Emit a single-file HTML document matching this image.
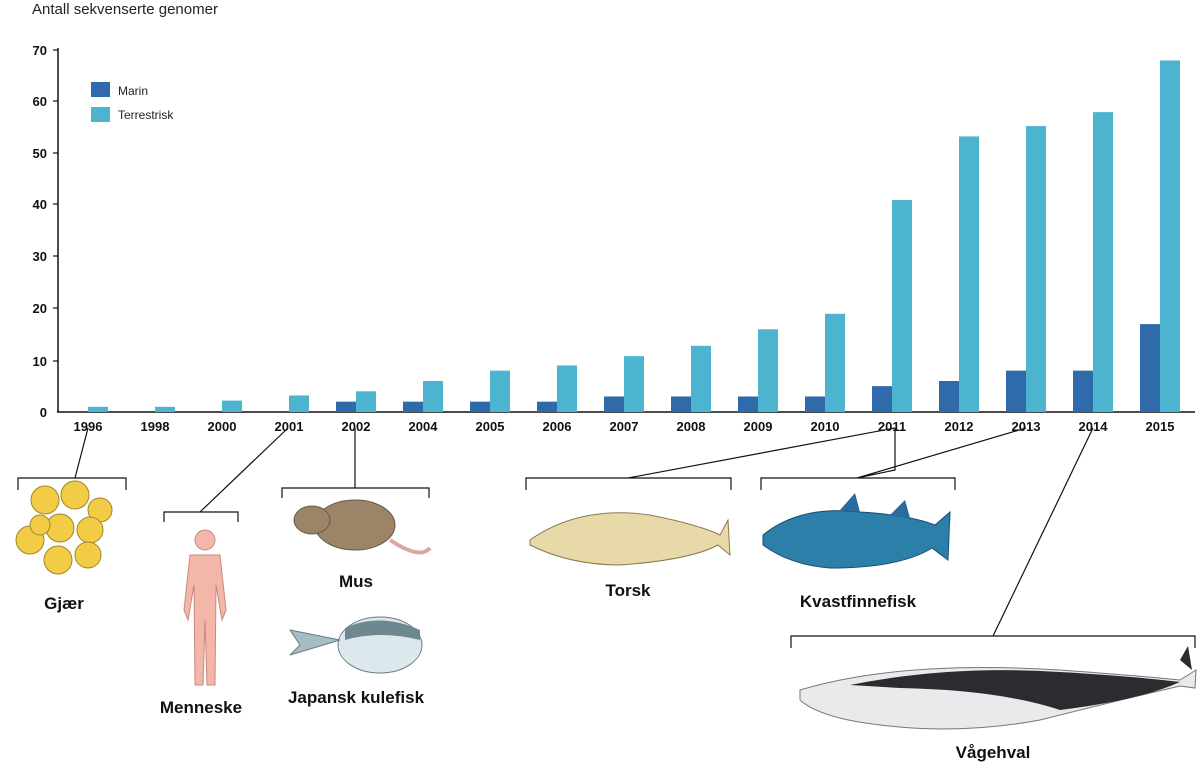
<!DOCTYPE html>
<html><head><meta charset="utf-8"><style>
body{margin:0;background:#fff}
svg{display:block;font-family:"Liberation Sans",sans-serif}
</style></head><body>
<svg width="1200" height="763" viewBox="0 0 1200 763" xmlns="http://www.w3.org/2000/svg">
<text x="32" y="14" font-size="15" fill="#222">Antall sekvenserte genomer</text>
<line x1="58" y1="48" x2="58" y2="412" stroke="#111" stroke-width="1.5"/>
<line x1="57" y1="412" x2="1195" y2="412" stroke="#111" stroke-width="1.5"/>
<g font-size="13" font-weight="bold" text-anchor="end" fill="#111">
<text x="47" y="55">70</text><text x="47" y="106">60</text><text x="47" y="158">50</text><text x="47" y="209">40</text><text x="47" y="261">30</text><text x="47" y="313">20</text><text x="47" y="366">10</text><text x="47" y="417">0</text>
</g>
<g stroke="#111" stroke-width="1.2">
<line x1="53" y1="50" x2="58" y2="50"/><line x1="53" y1="101" x2="58" y2="101"/><line x1="53" y1="153" x2="58" y2="153"/><line x1="53" y1="204" x2="58" y2="204"/><line x1="53" y1="256" x2="58" y2="256"/><line x1="53" y1="308" x2="58" y2="308"/><line x1="53" y1="361" x2="58" y2="361"/>
</g>
<rect x="91" y="82" width="19" height="15" fill="#2f6aab"/><text x="118" y="95" font-size="12" fill="#222">Marin</text>
<rect x="91" y="107" width="19" height="15" fill="#4db4cf"/><text x="118" y="119" font-size="12" fill="#222">Terrestrisk</text>
<g id="bars"></g>
<g id="labels" font-size="13" font-weight="bold" text-anchor="middle" fill="#111"></g>
<!-- brackets -->
<g stroke="#111" stroke-width="1.2" fill="none">
<path d="M88 428 L75 478 M18 490 V478 H126 V490"/>
<path d="M288 428 L200 512 M164 522 V512 H238 V522"/>
<path d="M355 428 V488 M282 498 V488 H429 V498"/>
<path d="M895 428 L628 478 M526 490 V478 H731 V490"/>
<path d="M1026 428 L857 478 M895 428 V470 L857 478 M761 490 V478 H955 V490"/>
<path d="M1093 428 L993 636 M791 648 V636 H1195 V648"/>
</g>
<!-- yeast -->
<g fill="#f2cc45" stroke="#a0862a" stroke-width="1">
<circle cx="45" cy="500" r="14"/><circle cx="75" cy="495" r="14"/><circle cx="100" cy="510" r="12"/><circle cx="30" cy="540" r="14"/><circle cx="60" cy="528" r="14"/><circle cx="90" cy="530" r="13"/><circle cx="58" cy="560" r="14"/><circle cx="88" cy="555" r="13"/><circle cx="40" cy="525" r="10"/>
</g>
<!-- human -->
<g fill="#f2b7a8" stroke="#c88a7c" stroke-width="1">
<circle cx="205" cy="540" r="10"/>
<path d="M190 555 H220 L226 610 L222 620 L216 585 L215 685 H207 L205 620 L203 685 H195 L194 585 L188 620 L184 610 Z"/>
</g>
<!-- mouse -->
<ellipse cx="355" cy="525" rx="40" ry="25" fill="#9b8468" stroke="#6b5a44"/>
<ellipse cx="312" cy="520" rx="18" ry="14" fill="#9b8468" stroke="#6b5a44"/>
<path d="M390 540 Q420 560 430 548" stroke="#d9a8a0" stroke-width="4" fill="none"/>
<!-- pufferfish -->
<ellipse cx="380" cy="645" rx="42" ry="28" fill="#dce8ec" stroke="#6a7c84"/>
<path d="M340 640 L290 630 L300 645 L290 655 Z" fill="#a7bcc5" stroke="#6a7c84"/>
<path d="M345 628 Q380 612 420 630 L420 640 Q380 630 345 640Z" fill="#6f8791"/>
<!-- cod -->
<path d="M530 540 Q580 505 650 515 Q700 525 720 535 L728 520 L730 555 L718 545 Q690 560 620 565 Q570 565 530 545 Z" fill="#e8d9a8" stroke="#8a7a50"/>
<!-- coelacanth -->
<path d="M763 535 Q800 505 860 512 Q910 515 935 525 L950 512 L948 560 L932 548 Q900 568 830 568 Q790 565 763 545 Z" fill="#2c7fa8" stroke="#1d4e73"/>
<path d="M840 510 L855 493 L860 512 Z M890 515 L905 500 L910 518Z" fill="#2a6aa0"/>
<!-- whale -->
<path d="M800 690 Q900 660 1060 670 Q1130 675 1180 680 L1196 670 L1195 688 L1180 686 Q1120 700 1040 720 Q960 735 880 725 Q820 718 800 700 Z" fill="#e8eaec" stroke="#777"/>
<path d="M850 685 Q950 665 1060 672 Q1130 676 1180 682 Q1140 700 1060 710 Q1000 690 900 688Z" fill="#2a2c30"/>
<path d="M1180 660 L1188 646 L1192 670 Z" fill="#2a2c30"/>
<g font-size="17" font-weight="bold" text-anchor="middle" fill="#111">
<text x="64" y="609">Gjær</text>
<text x="201" y="713">Menneske</text>
<text x="356" y="587">Mus</text>
<text x="356" y="703">Japansk kulefisk</text>
<text x="628" y="596">Torsk</text>
<text x="858" y="607">Kvastfinnefisk</text>
<text x="993" y="758">Vågehval</text>
</g>
<script>
var yrs=["1996","1998","2000","2001","2002","2004","2005","2006","2007","2008","2009","2010","2011","2012","2013","2014","2015"];
var m=[0,0,0,0,2,2,2,2,3,3,3,3,5,6,8,8,17];
var t=[1,1,2.2,3.2,4,6,8,9,10.8,12.8,16,19,41,53.3,55.3,58,68];
var ns="http://www.w3.org/2000/svg",b=document.getElementById("bars"),l=document.getElementById("labels");
function y(v){return 412-v*5.17;}
for(var i=0;i<17;i++){var c=88+67*i;
 if(m[i]>0){var r=document.createElementNS(ns,"rect");r.setAttribute("x",c-20);r.setAttribute("y",y(m[i]));r.setAttribute("width",20);r.setAttribute("height",m[i]*5.17);r.setAttribute("fill","#2f6aab");b.appendChild(r);}
 var r2=document.createElementNS(ns,"rect");r2.setAttribute("x",c);r2.setAttribute("y",y(t[i]));r2.setAttribute("width",20);r2.setAttribute("height",t[i]*5.17);r2.setAttribute("fill","#4db4cf");b.appendChild(r2);
 var tx=document.createElementNS(ns,"text");tx.setAttribute("x",c);tx.setAttribute("y",431);tx.textContent=yrs[i];l.appendChild(tx);}
</script>
</svg>
</body></html>
